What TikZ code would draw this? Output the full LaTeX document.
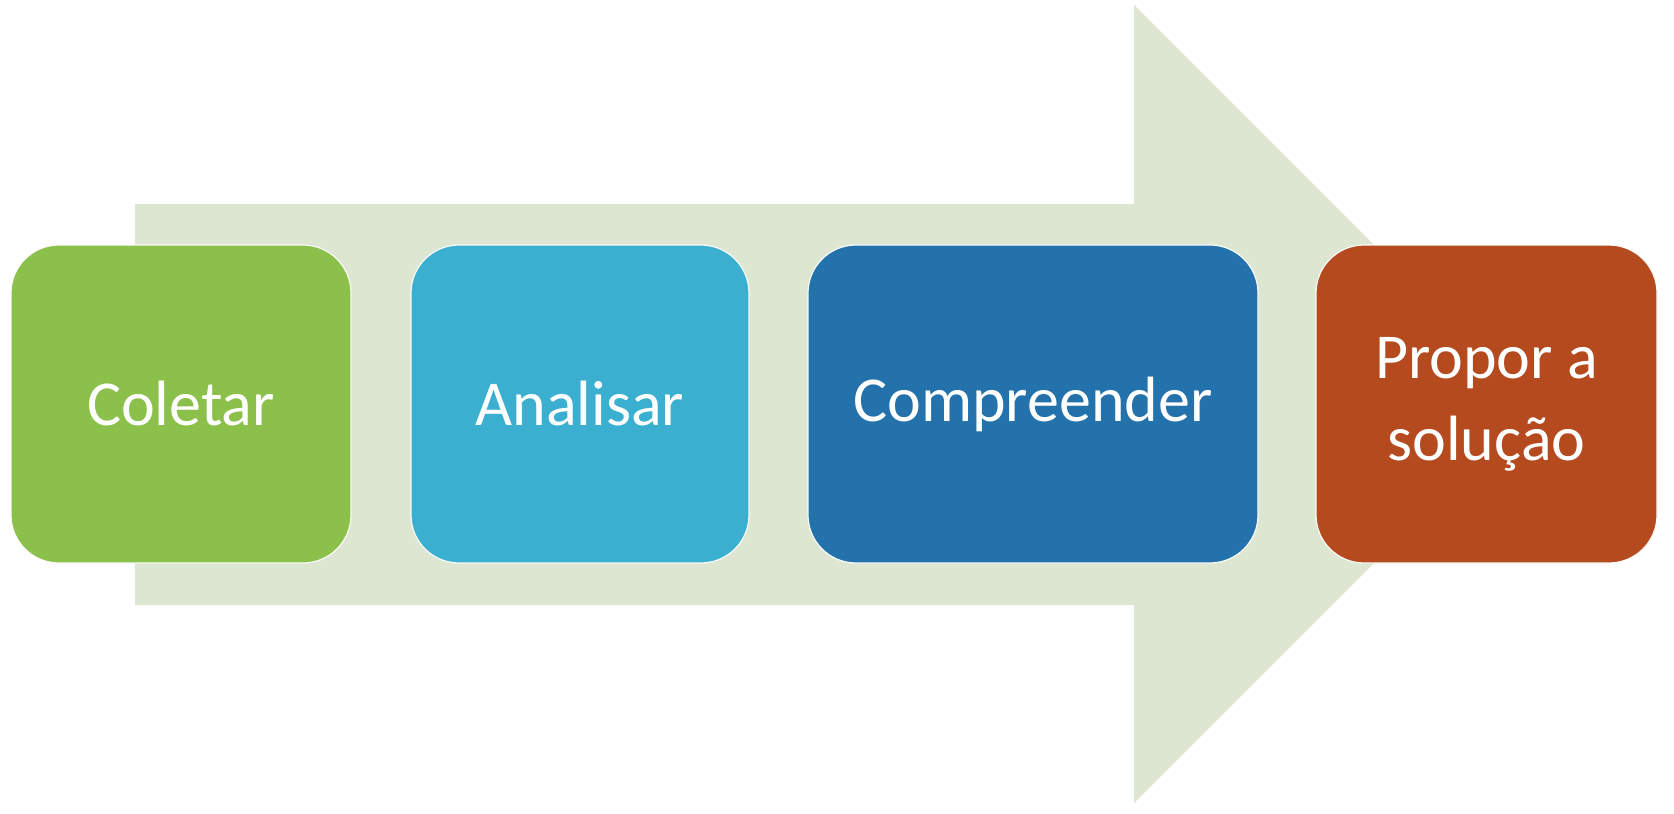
\documentclass[tikz,border=0pt]{standalone}
\usepackage{fontspec}
\setmainfont{Carlito}
\usetikzlibrary{positioning}
\definecolor{arrowgreen}{HTML}{DCE6D0}
\definecolor{stepgreen}{HTML}{8BC04A}
\definecolor{stepcyan}{HTML}{3AAFCF}
\definecolor{stepblue}{HTML}{2372AC}
\definecolor{steporange}{HTML}{B54A1E}
\tikzset{
    stage/.style={rectangle,rounded corners=48pt,draw=white!85!arrowgreen,line width=1.2pt,
        text=white,font=\fontsize{64}{82}\selectfont,align=center,inner sep=0pt,
        minimum height=318pt}
}

\begin{document}
\begin{tikzpicture}[x=1pt,y=-1pt]
    \useasboundingbox (0,0) rectangle (1674,814);
    % background arrow
    \coordinate (tl) at (135,204);
    \coordinate (nb) at (1134,204);
    \coordinate (ht) at (1134,5);
    \coordinate (tip) at (1533,404);
    \coordinate (hb) at (1134,803);
    \coordinate (sb) at (1134,605);
    \coordinate (bl) at (135,605);
    \fill[arrowgreen] (tl) -- (nb) -- (ht) -- (tip) -- (hb) -- (sb) -- (bl) -- cycle;
    % stages
    \node[stage,fill=stepgreen,minimum width=340pt] at (181,404) (col) {Coletar};
    \node[stage,fill=stepcyan,minimum width=338pt] at (580,404) (ana) {Analisar};
    \node[stage,fill=stepblue,minimum width=450pt] at (1033,404) (com) {Compreender};
    \node[stage,fill=steporange,minimum width=341pt] at (1486.5,404) (pro) {Propor a\\solução};
\end{tikzpicture}
\end{document}
